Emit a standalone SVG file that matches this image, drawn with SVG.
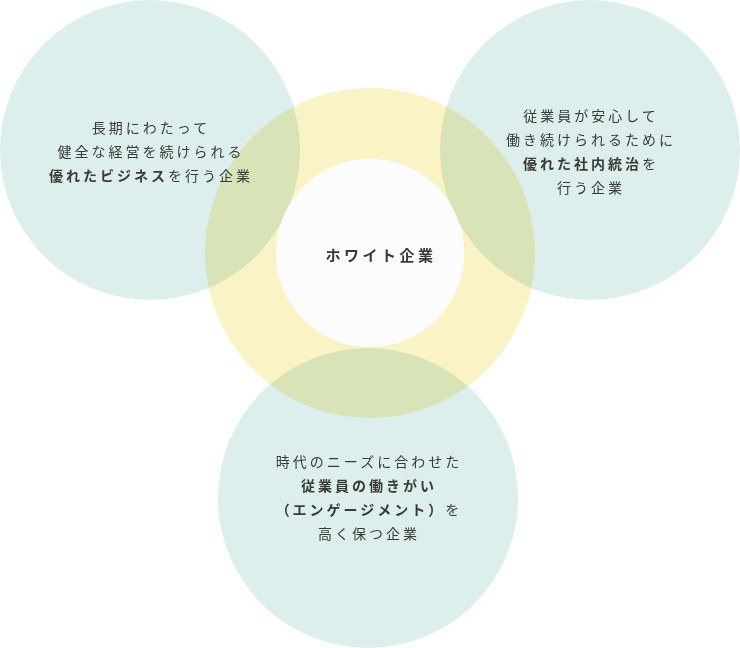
<svg xmlns="http://www.w3.org/2000/svg" width="740" height="648" viewBox="0 0 740 648">
<style>
.c{fill:#ddefec}
.t{font-family:"Noto Sans CJK JP","Noto Sans",sans-serif;font-size:14px;fill:#3a3a3a;letter-spacing:3px;text-anchor:middle}
.b{font-weight:bold}
</style>
<rect width="740" height="648" fill="#ffffff"/>
<g id="left"><circle class="c" cx="150" cy="150" r="150"/></g>
<g id="right"><circle class="c" cx="590" cy="150" r="150"/></g>
<g id="bottom"><circle class="c" cx="368" cy="498" r="150"/></g>
<g id="ring">
<path d="M370,88 a165,165 0 1,0 0.01,0 Z M370,159 a94,94 0 1,1 -0.01,0 Z" fill="#faf3c6" fill-rule="evenodd" style="mix-blend-mode:multiply"/>
<circle cx="370" cy="253" r="94" fill="#fcfcfc"/>
</g>
<g id="left-text">
<text class="t" x="151" y="133">長期にわたって</text>
<text class="t" x="151" y="157">健全な経営を続けられる</text>
<text class="t" x="151" y="181"><tspan class="b">優れたビジネス</tspan>を行う企業</text>
</g>
<g id="right-text">
<text class="t" x="591" y="121">従業員が安心して</text>
<text class="t" x="591" y="145">働き続けられるために</text>
<text class="t" x="591" y="169"><tspan class="b">優れた社内統治</tspan>を</text>
<text class="t" x="591" y="193">行う企業</text>
</g>
<g id="bottom-text">
<text class="t" x="369" y="467">時代のニーズに合わせた</text>
<text class="t" x="369" y="491"><tspan class="b">従業員の働きがい</tspan></text>
<text class="t" x="369" y="515"><tspan class="b">（エンゲージメント）</tspan>を</text>
<text class="t" x="369" y="539">高く保つ企業</text>
</g>
<g id="center">
<text class="t b" x="381" y="261" style="font-size:15px;letter-spacing:3.5px">ホワイト企業</text>
</g>
</svg>
